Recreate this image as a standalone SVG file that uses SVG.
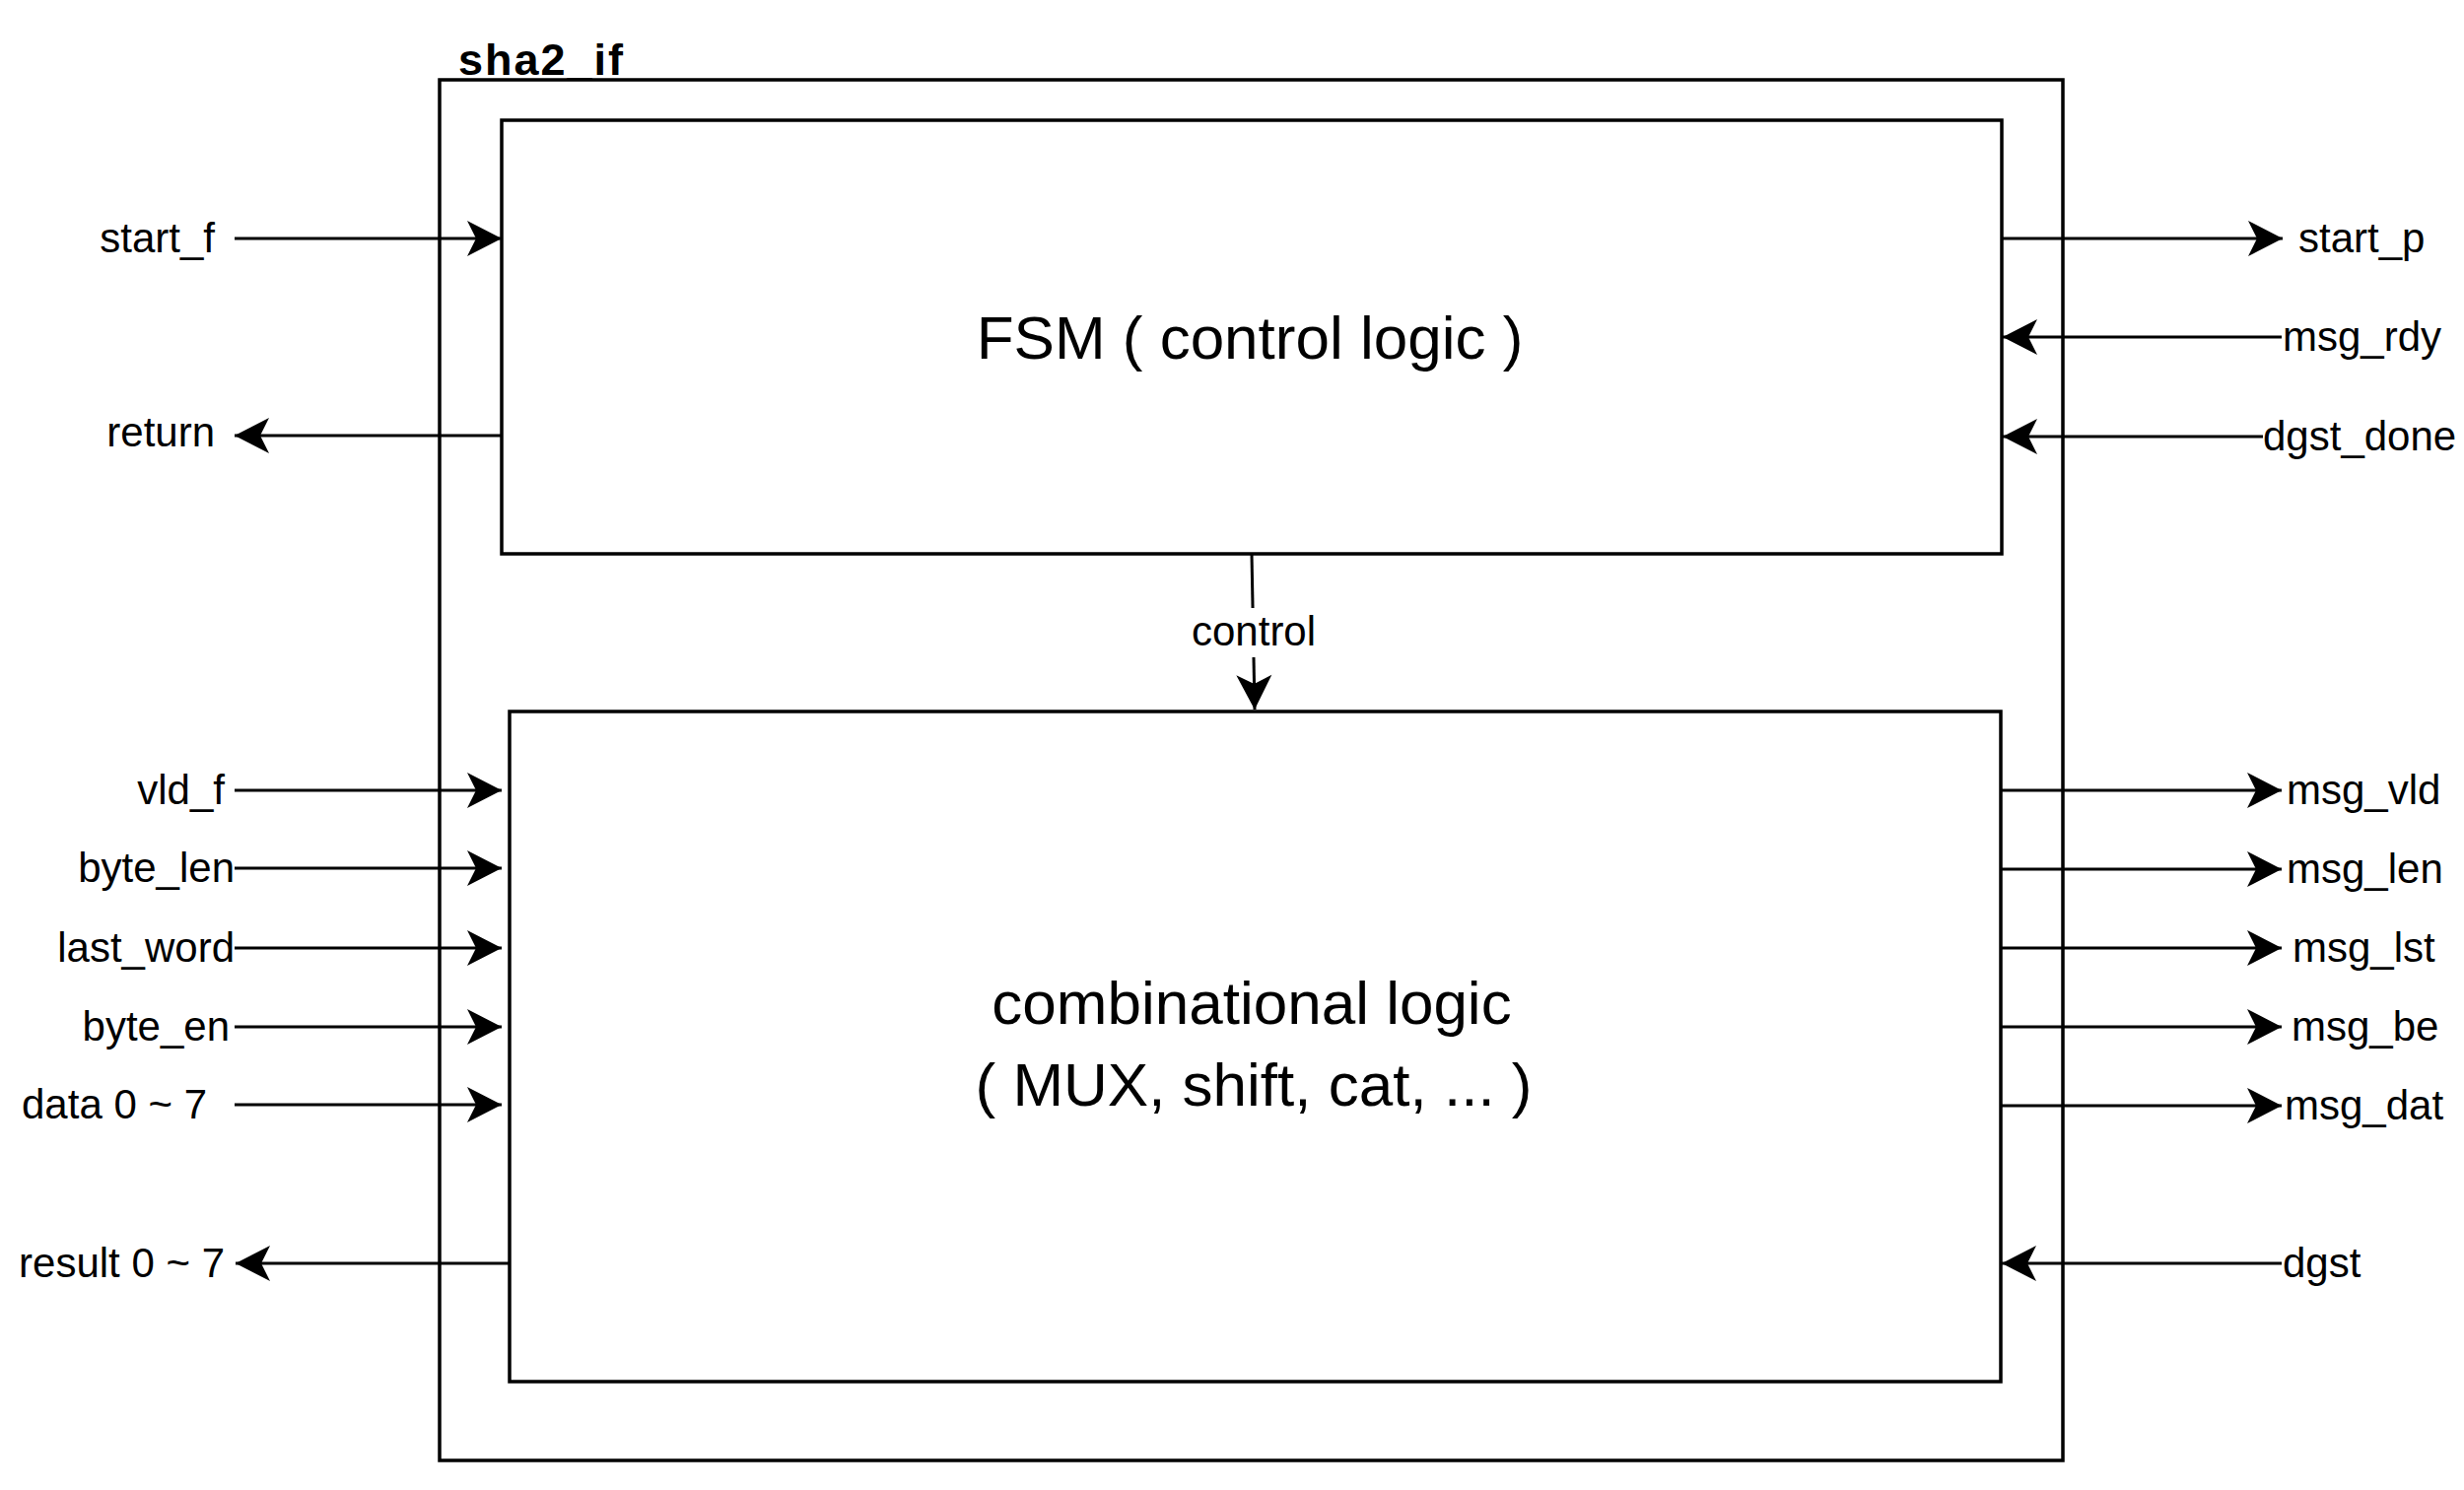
<svg xmlns="http://www.w3.org/2000/svg" width="2500" height="1512" viewBox="0 0 2500 1512">
<defs>
<style>
.box{fill:#fff;stroke:#000;stroke-width:3.5}
.outer{fill:none;stroke:#000;stroke-width:3.5}
.wire{fill:none;stroke:#000;stroke-width:3;marker-end:url(#arr)}
.lbl{font-family:"Liberation Sans",Arial,sans-serif;font-size:42px;fill:#000}
.big{font-family:"Liberation Sans",Arial,sans-serif;font-size:62px;fill:#000;text-anchor:middle}
.title{font-family:"Liberation Sans",Arial,sans-serif;font-size:45px;font-weight:bold;letter-spacing:2px;fill:#000}
.end{text-anchor:end}
</style>
<marker id="arr" viewBox="-36 -19 38 38" refX="0" refY="0" markerWidth="38" markerHeight="38" markerUnits="userSpaceOnUse" orient="auto">
<path d="M0,0 L-35,-18 L-26,0 L-35,18 Z" fill="#000"/>
</marker>
</defs>
<rect width="2500" height="1512" fill="#fff"/>

<g id="sha2_if">
<rect class="outer" x="446" y="81" width="1647" height="1401"/>
<text class="title" x="465" y="76">sha2_if</text>
</g>

<g id="fsm">
<rect class="box" x="509" y="122" width="1522" height="440"/>
<text class="big" x="1268" y="364">FSM ( control logic )</text>
</g>

<g id="comb">
<rect class="box" x="517" y="722" width="1513" height="680"/>
<text class="big" x="1270" y="1039">combinational logic</text>
<text class="big" x="1272" y="1122">( MUX, shift, cat, ... )</text>
</g>

<g id="connectors">
<path class="wire" d="M238,242 L509,242"/>
<path class="wire" d="M509,442 L238,442"/>
<path class="wire" d="M2031,242 L2316,242"/>
<path class="wire" d="M2315,342 L2032,342"/>
<path class="wire" d="M2296,443 L2032,443"/>
<path class="wire" d="M1270,562 L1273,720"/>
<path class="wire" d="M238,802 L509,802"/>
<path class="wire" d="M238,881 L509,881"/>
<path class="wire" d="M238,962 L509,962"/>
<path class="wire" d="M238,1042 L509,1042"/>
<path class="wire" d="M238,1121 L509,1121"/>
<path class="wire" d="M517,1282 L239,1282"/>
<path class="wire" d="M2030,802 L2315,802"/>
<path class="wire" d="M2030,882 L2315,882"/>
<path class="wire" d="M2030,962 L2315,962"/>
<path class="wire" d="M2030,1042 L2315,1042"/>
<path class="wire" d="M2030,1122 L2315,1122"/>
<path class="wire" d="M2315,1282 L2031,1282"/>
<rect x="1206" y="617" width="136" height="50" fill="#fff"/>
<text class="lbl" x="1209" y="655">control</text>
</g>

<g id="labels">
<text class="lbl end" x="218" y="256">start_f</text>
<text class="lbl end" x="218" y="453">return</text>
<text class="lbl end" x="228" y="816">vld_f</text>
<text class="lbl end" x="238" y="895">byte_len</text>
<text class="lbl end" x="238" y="976">last_word</text>
<text class="lbl end" x="233" y="1056">byte_en</text>
<text class="lbl end" x="210" y="1135">data 0 ~ 7</text>
<text class="lbl end" x="228" y="1296">result 0 ~ 7</text>
<text class="lbl" x="2332" y="256">start_p</text>
<text class="lbl" x="2316" y="356">msg_rdy</text>
<text class="lbl" x="2296" y="457">dgst_done</text>
<text class="lbl" x="2320" y="816">msg_vld</text>
<text class="lbl" x="2320" y="896">msg_len</text>
<text class="lbl" x="2326" y="976">msg_lst</text>
<text class="lbl" x="2325" y="1056">msg_be</text>
<text class="lbl" x="2318" y="1136">msg_dat</text>
<text class="lbl" x="2316" y="1296">dgst</text>
</g>
</svg>
